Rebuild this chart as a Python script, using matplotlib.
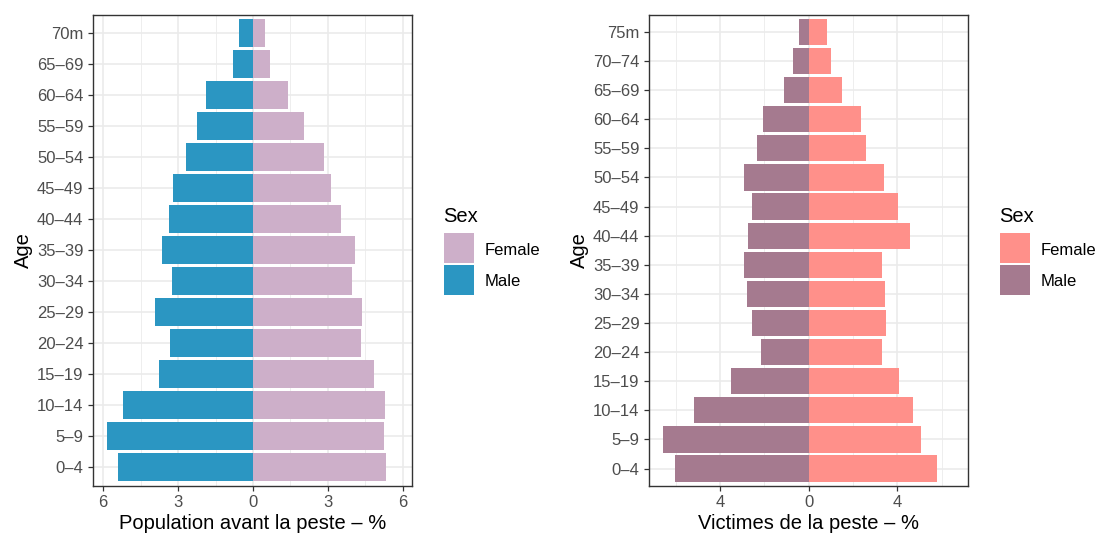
import matplotlib
matplotlib.use("Agg")
import matplotlib.pyplot as plt
import numpy as np

plt.rcParams['font.family'] = ['Liberation Sans', 'DejaVu Sans']

# ---- data: left panel (population before plague, %) ----
ages_left = ["0\u20134", "5\u20139", "10\u201314", "15\u201319", "20\u201324", "25\u201329", "30\u201334",
             "35\u201339", "40\u201344", "45\u201349", "50\u201354", "55\u201359", "60\u201364", "65\u201369", "70m"]
male_left = [5.40, 5.84, 5.20, 3.76, 3.32, 3.92, 3.24, 3.64, 3.36, 3.20, 2.68, 2.24, 1.88, 0.81, 0.56]
female_left = [5.32, 5.24, 5.28, 4.84, 4.32, 4.36, 3.96, 4.08, 3.52, 3.12, 2.84, 2.04, 1.40, 0.68, 0.48]

# ---- data: right panel (plague victims, %) ----
ages_right = ["0\u20134", "5\u20139", "10\u201314", "15\u201319", "20\u201324", "25\u201329", "30\u201334",
              "35\u201339", "40\u201344", "45\u201349", "50\u201354", "55\u201359", "60\u201364", "65\u201369",
              "70\u201374", "75m"]
male_right = [6.05, 6.59, 5.19, 3.52, 2.16, 2.57, 2.79, 2.93, 2.75, 2.57, 2.93, 2.34, 2.07, 1.12, 0.72, 0.44]
female_right = [5.80, 5.07, 4.71, 4.08, 3.31, 3.50, 3.45, 3.31, 4.58, 4.04, 3.40, 2.59, 2.37, 1.51, 1.01, 0.83]

left_ticks = [-6, -3, 0, 3, 6]
left_ticklabels = ["6", "3", "0", "3", "6"]
right_ticks = [-4, 0, 4]
right_ticklabels = ["4", "0", "4"]

W, H = 1096, 534
fig = plt.figure(figsize=(W / 100, H / 100), dpi=100)

def px_axes(x0, y0, x1, y1):
    return fig.add_axes([x0 / W, 1 - y1 / H, (x1 - x0) / W, (y1 - y0) / H])

GRID = "#EBEBEB"
TXT = "#4D4D4D"

def draw(ax, ages, male, female, c_male, c_female, xlim, ticks, ticklabels, minor, xlabel):
    n = len(ages)
    y = np.arange(1, n + 1)
    ax.set_facecolor("white")
    for v in minor:
        ax.axvline(v, color=GRID, lw=0.6, zorder=0)
    for v in ticks:
        ax.axvline(v, color=GRID, lw=1.2, zorder=0)
    for v in y:
        ax.axhline(v, color=GRID, lw=1.2, zorder=0)
    ax.barh(y, [-m for m in male], height=0.9, color=c_male, zorder=2, linewidth=0)
    ax.barh(y, female, height=0.9, color=c_female, zorder=2, linewidth=0)
    ax.set_xlim(*xlim)
    ax.set_ylim(0.4, n + 0.6)
    ax.set_yticks(y)
    ax.set_yticklabels(ages)
    ax.set_xticks(ticks)
    ax.set_xticklabels(ticklabels)
    ax.tick_params(axis='both', length=3.5, width=0.9, color="#333333", labelcolor=TXT,
                   labelsize=12, pad=3)
    for s in ax.spines.values():
        s.set_color("#333333")
        s.set_linewidth(1.0)
    ax.set_xlabel(xlabel, fontsize=14.5, color="black", labelpad=3)
    ax.set_ylabel("Age", fontsize=14.5, color="black", labelpad=3)

axL = px_axes(92.5, 14.5, 412.5, 486)
draw(axL, ages_left, male_left, female_left, "#2B96C2", "#CDAFC9",
     (-6.43, 6.39), left_ticks, left_ticklabels, [-4.5, -1.5, 1.5, 4.5],
     "Population avant la peste \u2013 %")

axR = px_axes(648.5, 14.5, 968.5, 486)
draw(axR, ages_right, male_right, female_right, "#A57A8F", "#FF908A",
     (-7.24, 7.22), right_ticks, right_ticklabels, [-6, -2, 2, 6],
     "Victimes de la peste \u2013 %")

def legend(x_key, c_female, c_male):
    fig.text((x_key - 1) / W, 1 - 216.5 / H, "Sex", fontsize=14.5, va="center", ha="left")
    for i, (lab, c) in enumerate([("Female", c_female), ("Male", c_male)]):
        top = 233.5 + i * 31.5
        axk = px_axes(x_key, top, x_key + 30, top + 30)
        axk.add_patch(plt.Rectangle((0, 0), 1, 1, color=c))
        axk.set_xlim(0, 1); axk.set_ylim(0, 1); axk.axis('off')
        fig.text((x_key + 41) / W, 1 - (top + 17) / H, lab, fontsize=12, va="center", ha="left")

legend(444, "#CDAFC9", "#2B96C2")
legend(1000, "#FF908A", "#A57A8F")

fig.savefig("out.png", dpi=100, facecolor="white")
